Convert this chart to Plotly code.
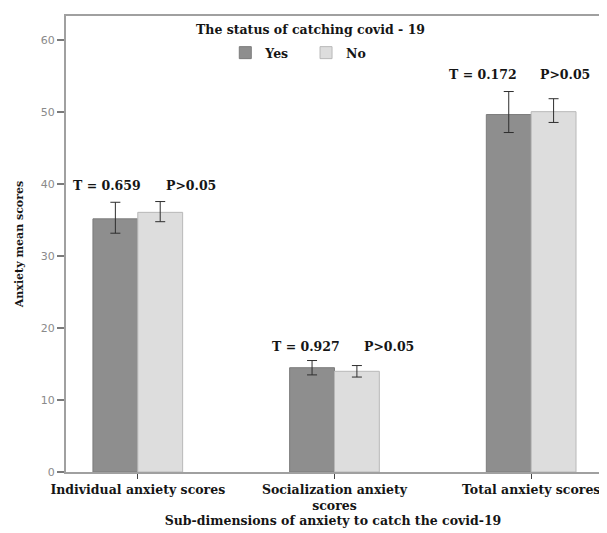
import plotly.graph_objects as go

categories = ["Individual anxiety scores", "Socialization anxiety<br>scores", "Total anxiety scores"]
yes_means = [35.2, 14.5, 49.7]
yes_err_plus = [2.3, 1.0, 3.2]
yes_err_minus = [2.0, 1.0, 2.5]
no_means = [36.1, 14.0, 50.1]
no_err_plus = [1.5, 0.8, 1.8]
no_err_minus = [1.3, 0.8, 1.5]
t_labels = ["T = 0.659", "T = 0.927", "T = 0.172"]
p_labels = ["P>0.05", "P>0.05", "P>0.05"]
label_heights = [39.9, 17.4, 55.2]
legend_title = "The status of catching covid - 19"

# pixel offsets of the statistic labels from each category centre (layout only)
t_shift = [-31, -28, -48]
p_shift = [53, 55, 34]

SERIF = "DejaVu Serif, Liberation Serif, serif"
TXT = "#151515"
NBSP = "\u00a0"

fig = go.Figure()
fig.add_trace(go.Bar(
    name="<b>Yes</b>" + NBSP * 3, x=categories, y=yes_means,
    marker=dict(color="#8e8e8e", line=dict(color="#7c7c7c", width=1)),
    error_y=dict(type="data", symmetric=False, array=yes_err_plus, arrayminus=yes_err_minus,
                 color="#2e2e2e", thickness=1, width=5),
))
fig.add_trace(go.Bar(
    name="<b>No</b>", x=categories, y=no_means,
    marker=dict(color="#dddddd", line=dict(color="#b8b8b8", width=1)),
    error_y=dict(type="data", symmetric=False, array=no_err_plus, arrayminus=no_err_minus,
                 color="#2e2e2e", thickness=1, width=5),
))

for cat, t, p, h, ts, ps in zip(categories, t_labels, p_labels, label_heights, t_shift, p_shift):
    fig.add_annotation(x=cat, y=h, text="<b>" + t + "</b>", showarrow=False, xshift=ts,
                       font=dict(family=SERIF, size=12.5, color=TXT), yanchor="middle")
    fig.add_annotation(x=cat, y=h, text="<b>" + p + "</b>", showarrow=False, xshift=ps,
                       font=dict(family=SERIF, size=12.5, color=TXT), yanchor="middle")

# legend title as a separate centred text
fig.add_annotation(xref="paper", yref="paper", x=0.457, y=(464 - 22) / 456,
                   text="<b>" + legend_title + "</b>", showarrow=False,
                   font=dict(family=SERIF, size=12.5, color=TXT), yanchor="middle")

fig.update_layout(
    width=599, height=525,
    margin=dict(l=58, r=5, t=8, b=61),
    paper_bgcolor="white", plot_bgcolor="white",
    barmode="group", bargap=0.544, bargroupgap=0,
    font=dict(family=SERIF, color=TXT),
    showlegend=True,
    legend=dict(
        orientation="h", x=0.435, xanchor="center", y=(464 - 30) / 456, yanchor="top",
        font=dict(family=SERIF, size=12.5, color=TXT),
        bgcolor="rgba(0,0,0,0)", itemwidth=30, tracegroupgap=0,
    ),
    xaxis=dict(
        range=[-0.365, 2.35],
        showline=True, linecolor="#a0a0a0", linewidth=2, mirror=True,
        ticks="outside", ticklen=5, tickcolor="#444444", tickwidth=1,
        tickfont=dict(family=SERIF, size=12.5, color=TXT),
        tickprefix="<b>", ticksuffix="</b>",
        title=dict(text="<b>Sub-dimensions of anxiety to catch the covid-19</b>",
                   font=dict(family=SERIF, size=12.5, color=TXT), standoff=4),
        showgrid=False,
    ),
    yaxis=dict(
        range=[0, 63.4],
        tickvals=[0, 10, 20, 30, 40, 50, 60],
        showline=True, linecolor="#a0a0a0", linewidth=2, mirror=True,
        ticks="outside", ticklen=7, tickcolor="#7a7a7a", tickwidth=1.5,
        tickfont=dict(family="DejaVu Sans, sans-serif", size=11, color="#8a8a8a"),
        title=dict(text="<b>Anxiety mean scores</b>",
                   font=dict(family=SERIF, size=11, color=TXT), standoff=15),
        showgrid=False, zeroline=False,
    ),
)

fig.write_html("out.html")
